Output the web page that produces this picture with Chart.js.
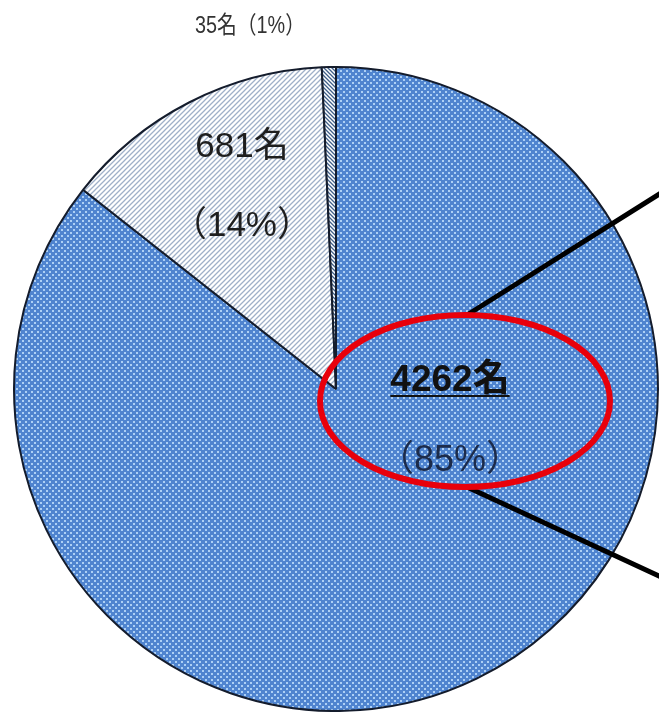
<!DOCTYPE html>
<html>
<head>
<meta charset="utf-8">
<script src="https://cdn.jsdelivr.net/npm/chart.js@4.4.0/dist/chart.umd.min.js"></script>
<style>
  html, body { margin: 0; padding: 0; background: #fff; }
  #wrap { width: 659px; height: 712px; overflow: hidden; }
</style>
</head>
<body>
<div id="wrap"><canvas id="pie" width="659" height="712"></canvas></div>
<script>
// データ（人数と割合）
const counts = [4262, 681, 35];
const nameLabels = ['4262名', '681名', '35名'];
const pctLabels = ['（85%）', '（14%）', '（1%）'];

const JP = '"Liberation Sans", Arial, "Noto Sans CJK JP", sans-serif';

// 模様を作る
function dotPattern() {
  const c = document.createElement('canvas');
  c.width = 6; c.height = 6;
  const g = c.getContext('2d');
  g.fillStyle = '#4f84cf';
  g.fillRect(0, 0, 6, 6);
  g.fillStyle = '#add0f5';
  g.fillRect(1, 1, 2, 2);
  g.fillRect(4, 4, 2, 2);
  return g.createPattern(c, 'repeat');
}

function hatchPattern(bg, fg, dir, size) {
  const c = document.createElement('canvas');
  c.width = size; c.height = size;
  const g = c.getContext('2d');
  g.fillStyle = bg;
  g.fillRect(0, 0, size, size);
  g.strokeStyle = fg;
  g.lineWidth = 1.3;
  g.beginPath();
  if (dir > 0) {
    g.moveTo(0, size); g.lineTo(size, 0);
    g.moveTo(-1, 1); g.lineTo(1, -1);
    g.moveTo(size - 1, size + 1); g.lineTo(size + 1, size - 1);
  } else {
    g.moveTo(0, 0); g.lineTo(size, size);
    g.moveTo(size - 1, -1); g.lineTo(size + 1, 1);
    g.moveTo(-1, size - 1); g.lineTo(1, size + 1);
  }
  g.stroke();
  return g.createPattern(c, 'repeat');
}

// 注記（ラベル、赤い楕円、引き出し線）
const notes = {
  id: 'notes',
  afterDraw(chart) {
    const ctx = chart.ctx;
    const meta = chart.getDatasetMeta(0);
    const a0 = meta.data[0];
    const cx = a0.x, cy = a0.y, r = a0.outerRadius;
    ctx.save();

    // 35名（1%）上部
    ctx.fillStyle = '#333';
    ctx.font = '24px ' + JP;
    ctx.textAlign = 'center';
    ctx.textBaseline = 'alphabetic';
    ctx.fillText(nameLabels[2] + pctLabels[2], 250, 33, 110);

    // 681名（14%）
    const a1 = meta.data[1];
    const mid = (a1.startAngle + a1.endAngle) / 2;
    const lx = cx + Math.cos(mid) * r * 0.64;
    const ly = cy + Math.sin(mid) * r * 0.64;
    ctx.fillStyle = '#1e1e1e';
    ctx.font = '35px ' + JP;
    ctx.fillText(nameLabels[1], lx, ly - 49);
    ctx.fillText(pctLabels[1], lx, ly + 30);

    // 赤い楕円と線
    const ex = cx + 129, ey = cy + 12;
    ctx.strokeStyle = '#000';
    ctx.lineWidth = 5;
    ctx.beginPath();
    ctx.moveTo(ex + 2, ey - 86);
    ctx.lineTo(chart.width + 2, ey - 208);
    ctx.moveTo(ex + 2, ey + 86);
    ctx.lineTo(chart.width + 2, ey + 176);
    ctx.stroke();

    ctx.strokeStyle = '#e8000b';
    ctx.lineWidth = 6;
    ctx.beginPath();
    ctx.ellipse(ex, ey, 145, 86, 0, 0, Math.PI * 2);
    ctx.stroke();

    // 4262名（85%）
    ctx.fillStyle = '#111';
    ctx.font = 'bold 37px ' + JP;
    const tx = ex - 15;
    ctx.fillText(nameLabels[0], tx, cy + 2);
    const w = ctx.measureText(nameLabels[0]).width;
    ctx.fillRect(tx - w / 2, cy + 6, w, 2);
    ctx.fillStyle = '#1c2b4a';
    ctx.font = '36px ' + JP;
    ctx.fillText(pctLabels[0], tx, cy + 82);

    ctx.restore();
  }
};

new Chart(document.getElementById('pie'), {
  type: 'pie',
  data: {
    labels: nameLabels,
    datasets: [{
      data: counts,
      backgroundColor: [
        dotPattern(),
        hatchPattern('#ffffff', '#9fb0c8', 1, 5),
        hatchPattern('#ffffff', '#40608a', -1, 4)
      ],
      borderColor: '#141c2c',
      borderWidth: 2
    }]
  },
  options: {
    responsive: false,
    animation: false,
    layout: { padding: { top: 66, left: 13, right: 0, bottom: 0 } },
    plugins: {
      legend: { display: false },
      tooltip: { enabled: false }
    }
  },
  plugins: [notes]
});
</script>
</body>
</html>
